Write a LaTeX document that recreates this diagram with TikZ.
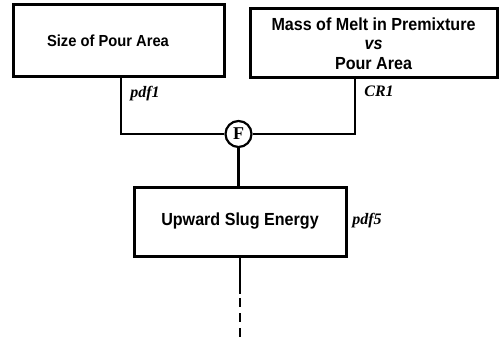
\documentclass[tikz,border=0pt]{standalone}
\usepackage{fontspec}
\setmainfont{Liberation Serif}
\setsansfont{Liberation Sans}
\newfontfamily\boxfont{Liberation Sans}[FakeStretch=0.92]
\begin{document}
\begin{tikzpicture}[x=1pt,y=-1pt,
  box/.style={draw, line width=3pt, inner sep=0pt, align=center},
  boxtext/.style={font=\boxfont\bfseries\fontsize{#1}{19.5}\selectfont, align=center},
  lbl/.style={font=\rmfamily\bfseries\itshape\fontsize{16}{18}\selectfont, inner sep=0pt},
  conn/.style={line width=2.4pt}]
\useasboundingbox (0,0) rectangle (500,339);
\node[box, minimum width=211pt, minimum height=72pt] (b1) at (118.5,41) {};
\node[boxtext=16] (t1) at (108,41) {Size of Pour Area};
\node[box, boxtext=17.5, minimum width=247pt, minimum height=69pt] (b2) at (373.5,43.5) {Mass of Melt in Premixture\\\textit{vs}\\Pour Area};
\node[box, boxtext=17.5, minimum width=212pt, minimum height=69pt] (b3) at (240,221.5) {Upward Slug Energy};
\node[draw, circle, line width=2.2pt, minimum size=26pt, inner sep=0pt, font=\rmfamily\bfseries\fontsize{18}{20}\selectfont] (F) at (238.5,134) {F};
\node[lbl] (l1) at (145,94) {pdf1};
\node[lbl] (l2) at (379,91) {CR1};
\node[lbl] (l3) at (367,221) {pdf5};
\coordinate (p1) at (121,0);
\coordinate (p2) at (355,0);
\coordinate (d1) at (240,294);
\coordinate (d2) at (240,339);
\draw[conn] (b1.south -| p1) |- (F);
\draw[conn] (b2.south -| p2) |- (F);
\draw[conn] (F) -- (F |- b3.north);
\draw[conn] (b3.south -| d1) -- (d1);
\draw[conn, dash pattern=on 9pt off 6pt] (d1) ++(0,4) -- (d2);
\end{tikzpicture}
\end{document}
